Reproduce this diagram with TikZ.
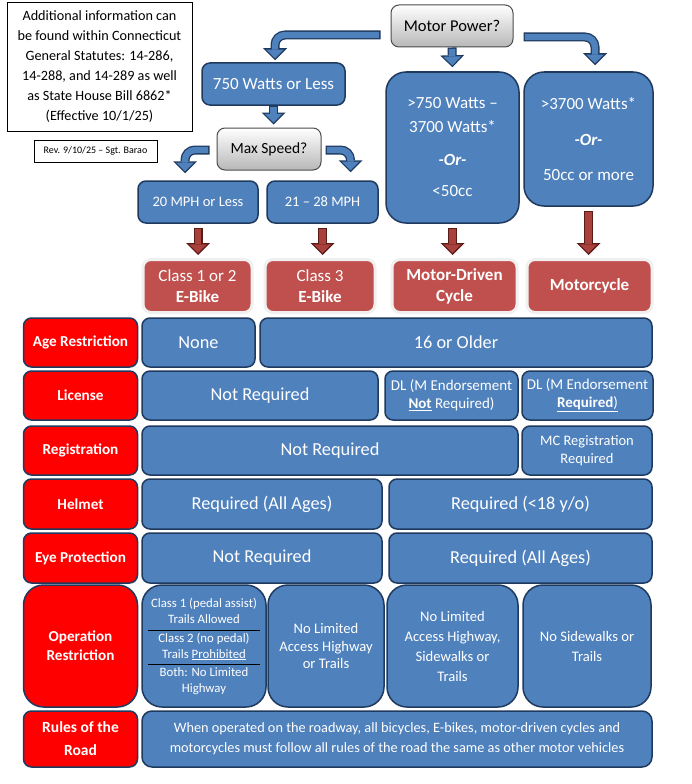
\documentclass[tikz,border=0pt]{standalone}
\usepackage{fontspec}
\setmainfont{Carlito}
\usetikzlibrary{positioning,arrows.meta,calc}

\definecolor{boxblue}{HTML}{4F81BD}
\definecolor{navy}{HTML}{1F3A5F}
\definecolor{labred}{HTML}{FF0000}
\definecolor{clsred}{HTML}{C0504D}
\definecolor{arrred}{HTML}{A8403C}
\definecolor{arrdark}{HTML}{5A1A18}

% block arrow: outline pass, then fill pass
\newcommand{\fatarrow}[3]{\draw[arrout,#1] #3; \draw[arrin,#2] #3;}

\begin{document}
\begin{tikzpicture}[x=1pt, y=-1pt,
  cell/.style={draw=navy, line width=1.5pt, fill=boxblue, rounded corners=8pt, text=white, align=center, inner sep=2pt, font=\fontsize{18.3}{21}\selectfont},
  lab/.style={cell, fill=labred, minimum width=114pt, font=\bfseries\fontsize{15.2}{19}\selectfont},
  ask/.style={draw=black!70, line width=1pt, rounded corners=8pt, top color=white, bottom color=black!28, align=center, font=\fontsize{16.5}{19}\selectfont},
  cls/.style={draw=black!6, line width=3pt, fill=clsred, rounded corners=8pt, text=white, align=center, minimum height=53pt, font=\fontsize{17}{21}\selectfont},
  note/.style={draw=black, line width=0.9pt, fill=white, align=center},
  arrout/.style={line width=9pt, rounded corners=10pt, -{Triangle[length=12pt,width=24pt,line width=0pt]}},
  arrin/.style={line width=6.4pt, rounded corners=10pt, shorten <=1.3pt, shorten >=1.8pt, -{Triangle[length=8.9pt,width=17.8pt,line width=0pt]}}
]
\useasboundingbox (0,0) rectangle (692,784);
\fill[white] (0,0) rectangle (692,784);

% notes
\node[note, minimum width=185pt, minimum height=129pt, font=\fontsize{14.2}{20}\selectfont] (info) at (99.5,66.5) {Additional information can\\ be found within Connecticut\\ General Statutes: 14-286,\\ 14-288, and 14-289 as well\\ as State House Bill 6862*\\ (Effective 10/1/25)};
\node[note, minimum width=123pt, minimum height=22pt, font=\fontsize{10}{12}\selectfont] (rev) at (95.5,151) {Rev. 9/10/25 -- Sgt. Barao};

% decision part
\node[ask, minimum width=122pt, minimum height=42pt] (mp) at (452,26) {Motor Power?};
\node[cell, minimum width=143pt, minimum height=42pt, font=\fontsize{17}{20}\selectfont] (w750) at (273.5,84) {750 Watts or Less};
\node[cell, minimum width=133pt, minimum height=151pt, rounded corners=20pt, font=\fontsize{17}{24}\selectfont] (mid) at (452.5,147.5) {>750 Watts --\\ 3700 Watts*\\[9pt] \textbf{\textit{-Or-}}\\[7pt] <50cc};
\node[cell, minimum width=129pt, minimum height=134pt, rounded corners=20pt, font=\fontsize{17}{24}\selectfont] (hi) at (588.5,139) {>3700 Watts*\\[12pt] \textbf{\textit{-Or-}}\\[11pt] 50cc or more};
\node[ask, minimum width=104pt, minimum height=42pt, font=\fontsize{15.5}{18}\selectfont] (ms) at (269,149) {Max Speed?};
\node[cell, minimum width=120pt, minimum height=42pt, font=\fontsize{14.5}{17}\selectfont] (s20) at (198,202) {20 MPH or Less};
\node[cell, minimum width=111pt, minimum height=42pt, font=\fontsize{14.5}{17}\selectfont] (s28) at (322.5,202) {21 -- 28 MPH};

% vehicle classes
\node[cls, minimum width=109pt] (c12) at (197.5,286) {Class 1 or 2\\ \textbf{E-Bike}};
\node[cls, minimum width=110pt] (c3) at (320,286) {Class 3\\ \textbf{E-Bike}};
\node[cls, minimum width=125pt, font=\bfseries\fontsize{17}{21}\selectfont] (mdc) at (454.5,286) {Motor-Driven\\ Cycle};
\node[cls, minimum width=125pt, font=\bfseries\fontsize{17}{21}\selectfont] (mc) at (589.5,286) {Motorcycle};

% table rows
\node[lab, minimum height=49pt] (age) at (80.5,342.5) {Age Restriction};
\node[cell, minimum width=113pt, minimum height=49pt] (ageA) at (198.5,342.5) {None};
\node[cell, minimum width=392pt, minimum height=49pt] (ageB) at (456,342.5) {16 or Older};

\node[lab, minimum height=49pt] (lic) at (80.5,395.5) {License};
\node[cell, minimum width=236pt, minimum height=49pt] (licA) at (260,395.5) {Not Required};
\node[cell, minimum width=133pt, minimum height=49pt, font=\fontsize{15}{18}\selectfont] (licB) at (451.5,395.5) {DL (M Endorsement\\ \underline{\textbf{Not}} Required)};
\node[cell, minimum width=131pt, minimum height=49pt, font=\fontsize{15}{18}\selectfont] (licC) at (587.5,395.5) {DL (M Endorsement\\ \underline{\textbf{Required})}};

\node[lab, minimum height=49pt] (reg) at (80.5,450.5) {Registration};
\node[cell, minimum width=376pt, minimum height=49pt] (regA) at (330,450.5) {Not Required};
\node[cell, minimum width=130pt, minimum height=49pt, font=\fontsize{14.5}{18}\selectfont] (regB) at (587,450.5) {MC Registration\\ Required};

\node[lab, minimum height=50pt] (hel) at (80.5,504) {Helmet};
\node[cell, minimum width=240pt, minimum height=50pt] (helA) at (262,504) {Required (All Ages)};
\node[cell, minimum width=263pt, minimum height=50pt] (helB) at (520.5,504) {\raisebox{-3pt}{Required (<18 y/o)}};

\node[lab, minimum height=50pt] (eye) at (80.5,558) {Eye Protection};
\node[cell, minimum width=240pt, minimum height=50pt] (eyeA) at (262,558) {Not Required};
\node[cell, minimum width=263pt, minimum height=50pt] (eyeB) at (520.5,558) {Required (All Ages)};

\node[lab, minimum height=122pt, rounded corners=20pt] (op) at (80.5,646) {Operation\\ Restriction};
\node[cell, minimum width=124pt, minimum height=122pt, rounded corners=20pt, font=\fontsize{12.8}{16}\selectfont] (opA) at (204,646) {Class 1 (pedal assist)\\ Trails Allowed\\[3pt] Class 2 (no pedal)\\ Trails \underline{Prohibited}\\[2pt] Both: No Limited\\ Highway};
\node[cell, minimum width=116pt, minimum height=122pt, rounded corners=20pt, font=\fontsize{14.6}{17.5}\selectfont] (opB) at (326,646) {No Limited\\ Access Highway\\ or Trails};
\node[cell, minimum width=131pt, minimum height=122pt, rounded corners=20pt, font=\fontsize{14.6}{20}\selectfont] (opC) at (452.5,646) {No Limited\\ Access Highway,\\ Sidewalks or\\ Trails};
\node[cell, minimum width=128pt, minimum height=122pt, rounded corners=20pt, font=\fontsize{14.6}{20}\selectfont] (opD) at (587,646) {No Sidewalks or\\ Trails};
\draw[black, line width=0.8pt] ($(opA.north west)+(7,46)$) -- ($(opA.north east)+(-7,46)$);
\draw[black, line width=0.8pt] ($(opA.north west)+(7,80)$) -- ($(opA.north east)+(-7,80)$);

\node[lab, minimum height=56pt, font=\bfseries\fontsize{15.5}{23}\selectfont] (rr) at (80.5,739) {Rules of the\\ Road};
\node[cell, minimum width=510pt, minimum height=56pt, rounded corners=10pt, font=\fontsize{14.3}{20}\selectfont] (rrA) at (397,739) {When operated on the roadway, all bicycles, E-bikes, motor-driven cycles and\\ motorcycles must follow all rules of the road the same as other motor vehicles};

% arrows
\coordinate (mpL) at ($(mp.west)+(-10,9)$);
\coordinate (mpR) at ($(mp.east)+(10,11)$);
\coordinate (msL) at ($(ms.west)+(-7,1)$);
\coordinate (msR) at ($(ms.east)+(4,1)$);
\fatarrow{navy}{boxblue}{(mpL) -| ($(w750.north)+(1.5,-2)$)}
\fatarrow{navy}{boxblue}{(mp.south) -- ($(mid.north)+(0,-4)$)}
\fatarrow{navy}{boxblue}{(mpR) -| ($(hi.north)+(6.5,-6)$)}
\fatarrow{navy}{boxblue}{(w750.south) -- ($(w750.south |- ms.north)+(0,-3)$)}
\fatarrow{navy}{boxblue}{(msL) -| ($(s20.north)+(-13,-7)$)}
\fatarrow{navy}{boxblue}{(msR) -| ($(s28.north)+(28,-8)$)}
\foreach \a/\b in {s20/c12,s28/c3,mid/mdc,hi/mc}
  {\fatarrow{arrdark}{arrred}{($(\a.south)+(0,4)$) -- ($(\a.south |- \b.north)+(0,-3)$)}}
\end{tikzpicture}
\end{document}
